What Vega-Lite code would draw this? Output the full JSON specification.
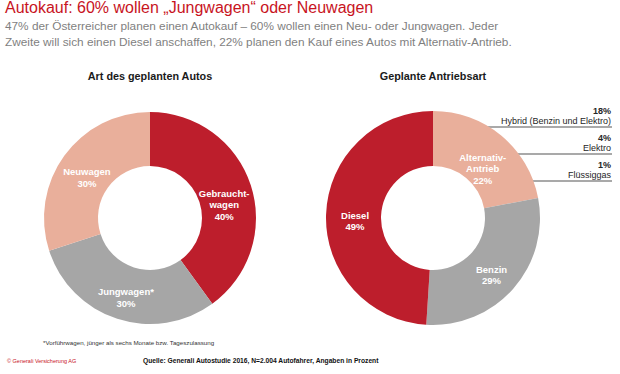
{
  "$schema": "https://vega.github.io/schema/vega-lite/v6.json",
  "width": 620,
  "height": 374,
  "autosize": {"type": "fit", "contains": "padding"},
  "padding": 0,
  "background": "white",
  "config": {"view": {"stroke": null}, "font": "Liberation Sans"},
  "title": {
    "text": "Autokauf: 60% wollen „Jungwagen“ oder Neuwagen",
    "subtitle": [
      "47% der Österreicher planen einen Autokauf – 60% wollen einen Neu- oder Jungwagen. Jeder",
      "Zweite will sich einen Diesel anschaffen, 22% planen den Kauf eines Autos mit Alternativ-Antrieb."
    ],
    "anchor": "start",
    "dx": 5,
    "font": "Liberation Sans",
    "fontSize": 16,
    "fontWeight": "normal",
    "color": "#C8141E",
    "subtitleFont": "Liberation Sans",
    "subtitleFontSize": 11.8,
    "subtitleColor": "#7F7F7F",
    "subtitleLineHeight": 16,
    "subtitlePadding": 5,
    "offset": 8
  },
  "datasets": {
    "anteile": [
      {"panel": "Art des geplanten Autos", "name": "Gebrauchtwagen", "label": "Gebraucht-\nwagen\n40%", "value": 40},
      {"panel": "Art des geplanten Autos", "name": "Jungwagen*", "label": "Jungwagen*\n30%", "value": 30},
      {"panel": "Art des geplanten Autos", "name": "Neuwagen", "label": "Neuwagen\n30%", "value": 30},
      {"panel": "Geplante Antriebsart", "name": "Alternativ-Antrieb", "label": "Alternativ-\nAntrieb\n22%", "value": 22},
      {"panel": "Geplante Antriebsart", "name": "Benzin", "label": "Benzin\n29%", "value": 29},
      {"panel": "Geplante Antriebsart", "name": "Diesel", "label": "Diesel\n49%", "value": 49}
    ],
    "panels": [
      {"panel": "Art des geplanten Autos"},
      {"panel": "Geplante Antriebsart"}
    ],
    "alternativ": [
      {"panel": "Geplante Antriebsart", "sub": "Hybrid (Benzin und Elektro)", "pct": "18%"},
      {"panel": "Geplante Antriebsart", "sub": "Elektro", "pct": "4%"},
      {"panel": "Geplante Antriebsart", "sub": "Flüssiggas", "pct": "1%"}
    ],
    "fussnote": [{"text": "*Vorführwagen, jünger als sechs Monate bzw. Tageszulassung"}],
    "copyright": [{"text": "© Generali Versicherung AG"}],
    "quelle": [{"text": "Quelle: Generali Autostudie 2016, N=2.004 Autofahrer, Angaben in Prozent"}]
  },
  "layer": [
    {
      "data": {"name": "alternativ"},
      "encoding": {
        "y": {"field": "sub", "type": "nominal", "axis": null,
          "scale": {"type": "point", "domain": ["Hybrid (Benzin und Elektro)", "Elektro", "Flüssiggas"], "range": [70, 124], "padding": 0}}
      },
      "layer": [
        {
          "mark": {"type": "rule", "color": "#8C8C8C", "strokeWidth": 1.5, "xOffset": 45},
          "encoding": {
            "x": {"field": "panel", "type": "nominal", "axis": null,
              "scale": {"type": "point", "domain": ["Art des geplanten Autos", "Geplante Antriebsart"], "range": [150, 433], "padding": 0}},
            "x2": {"value": 612}
          }
        },
        {
          "mark": {"type": "text", "align": "right", "baseline": "middle", "dy": -6.5, "fontSize": 9, "color": "#262626"},
          "encoding": {"x": {"value": 611}, "text": {"field": "sub"}}
        },
        {
          "mark": {"type": "text", "align": "right", "baseline": "middle", "dy": -16.5, "fontSize": 9, "fontWeight": "bold", "color": "#262626"},
          "encoding": {"x": {"value": 611}, "text": {"field": "pct"}}
        }
      ]
    },
    {
      "data": {"name": "anteile"},
      "transform": [{"filter": "datum.panel === 'Art des geplanten Autos'"}],
      "encoding": {
        "theta": {"field": "value", "type": "quantitative", "stack": true},
        "order": {"field": "name", "type": "ordinal", "sort": "ascending"},
        "x": {"field": "panel", "type": "nominal", "axis": null,
          "scale": {"type": "point", "domain": ["Art des geplanten Autos", "Geplante Antriebsart"], "range": [150, 433], "padding": 0}},
        "y": {"value": 161}
      },
      "layer": [
        {
          "mark": {"type": "arc", "outerRadius": 106, "innerRadius": 52},
          "encoding": {
            "color": {"field": "name", "type": "nominal", "legend": null,
              "scale": {"domain": ["Gebrauchtwagen", "Jungwagen*", "Neuwagen", "Alternativ-Antrieb", "Benzin", "Diesel"],
                "range": ["#BD1E2C", "#A6A6A6", "#E9AF9B", "#E9AF9B", "#A6A6A6", "#BD1E2C"]}}
          }
        },
        {
          "mark": {"type": "text", "radius": 78, "lineBreak": "\n", "fontSize": 9.5, "lineHeight": 11.5, "fontWeight": "bold", "color": "white", "align": "center", "baseline": "middle"},
          "encoding": {"detail": {"field": "name"}, "text": {"field": "label"}}
        }
      ]
    },
    {
      "data": {"name": "anteile"},
      "transform": [{"filter": "datum.panel === 'Geplante Antriebsart'"}],
      "encoding": {
        "theta": {"field": "value", "type": "quantitative", "stack": true},
        "order": {"field": "name", "type": "ordinal", "sort": "ascending"},
        "x": {"field": "panel", "type": "nominal", "axis": null,
          "scale": {"type": "point", "domain": ["Art des geplanten Autos", "Geplante Antriebsart"], "range": [150, 433], "padding": 0}},
        "y": {"value": 161}
      },
      "layer": [
        {
          "mark": {"type": "arc", "outerRadius": 107, "innerRadius": 52},
          "encoding": {
            "color": {"field": "name", "type": "nominal", "legend": null,
              "scale": {"domain": ["Gebrauchtwagen", "Jungwagen*", "Neuwagen", "Alternativ-Antrieb", "Benzin", "Diesel"],
                "range": ["#BD1E2C", "#A6A6A6", "#E9AF9B", "#E9AF9B", "#A6A6A6", "#BD1E2C"]}}
          }
        },
        {
          "mark": {"type": "text", "radius": 78, "lineBreak": "\n", "fontSize": 9.5, "lineHeight": 11.5, "fontWeight": "bold", "color": "white", "align": "center", "baseline": "middle"},
          "encoding": {"detail": {"field": "name"}, "text": {"field": "label"}}
        }
      ]
    },
    {
      "data": {"name": "panels"},
      "mark": {"type": "text", "fontSize": 10.8, "fontWeight": "bold", "color": "#1A1A1A", "align": "center", "baseline": "middle"},
      "encoding": {
        "x": {"field": "panel", "type": "nominal", "axis": null,
          "scale": {"type": "point", "domain": ["Art des geplanten Autos", "Geplante Antriebsart"], "range": [150, 433], "padding": 0}},
        "y": {"value": 20},
        "text": {"field": "panel"}
      }
    },
    {
      "data": {"name": "fussnote"},
      "mark": {"type": "text", "fontSize": 6.2, "color": "#333333", "align": "left", "baseline": "middle"},
      "encoding": {"x": {"value": 43}, "y": {"value": 286}, "text": {"field": "text"}}
    },
    {
      "data": {"name": "copyright"},
      "mark": {"type": "text", "fontSize": 5.5, "color": "#C8141E", "align": "left", "baseline": "middle"},
      "encoding": {"x": {"value": 7}, "y": {"value": 304}, "text": {"field": "text"}}
    },
    {
      "data": {"name": "quelle"},
      "mark": {"type": "text", "fontSize": 6.7, "fontWeight": "bold", "color": "#111111", "align": "left", "baseline": "middle"},
      "encoding": {"x": {"value": 143}, "y": {"value": 304}, "text": {"field": "text"}}
    }
  ]
}
